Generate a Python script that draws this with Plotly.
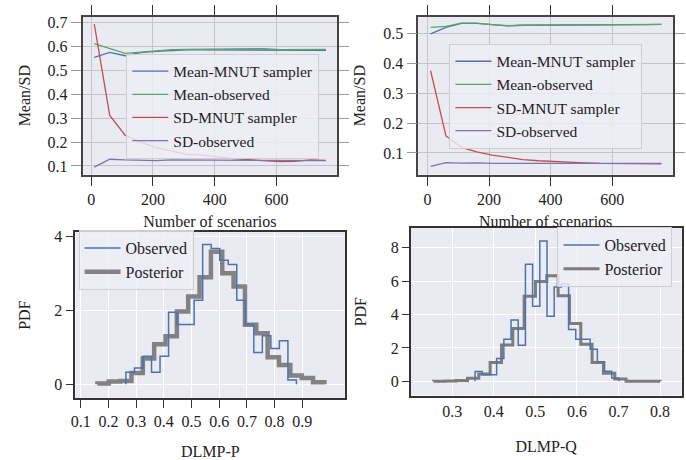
import numpy as np
import plotly.graph_objects as go

# ---- convergence of mean / SD versus number of scenarios ----
scenarios = [10, 60, 110, 160, 210, 260, 310, 360, 410, 460, 510, 560, 610, 660, 710, 760]

p_mean_mnut = [0.555, 0.576, 0.562, 0.575, 0.580, 0.585, 0.587, 0.587, 0.587, 0.587,
               0.587, 0.588, 0.586, 0.586, 0.585, 0.585]
p_mean_obs = [0.613, 0.593, 0.572, 0.577, 0.583, 0.588, 0.589, 0.589, 0.589, 0.590,
              0.590, 0.592, 0.588, 0.589, 0.589, 0.589]
p_sd_mnut = [0.695, 0.312, 0.229, 0.200, 0.177, 0.162, 0.148, 0.145, 0.137, 0.131,
             0.126, 0.121, 0.118, 0.119, 0.125, 0.123]
p_sd_obs = [0.095, 0.128, 0.125, 0.124, 0.122, 0.125, 0.125, 0.124, 0.124, 0.123,
            0.123, 0.123, 0.122, 0.122, 0.122, 0.122]

q_mean_mnut = [0.498, 0.520, 0.533, 0.533, 0.529, 0.525, 0.527, 0.527, 0.527, 0.528,
               0.528, 0.528, 0.529, 0.529, 0.529, 0.530]
q_mean_obs = [0.520, 0.523, 0.534, 0.534, 0.529, 0.526, 0.527, 0.528, 0.528, 0.528,
              0.528, 0.528, 0.529, 0.529, 0.529, 0.530]
q_sd_mnut = [0.375, 0.157, 0.119, 0.104, 0.093, 0.085, 0.078, 0.074, 0.071, 0.069,
             0.067, 0.065, 0.065, 0.064, 0.064, 0.064]
q_sd_obs = [0.055, 0.068, 0.066, 0.067, 0.065, 0.065, 0.065, 0.065, 0.065, 0.065,
            0.065, 0.065, 0.065, 0.065, 0.065, 0.065]

series_names = ["Mean-MNUT sampler", "Mean-observed", "SD-MNUT sampler", "SD-observed"]
series_colors = ["#4c72b0", "#55a868", "#c44e52", "#8172b2"]

# ---- histograms (density) of DLMP-P and DLMP-Q ----
p_obs_range = (0.263, 0.879)
p_obs_density = [0.33, 0.44, 0.76, 0.33, 0.76, 1.95, 1.62, 1.62, 2.27, 3.78,
                 3.67, 3.35, 3.24, 2.27, 1.62, 0.86, 1.31, 0.97, 1.18, 0.12]
p_post_range = (0.160, 0.980)
p_post_density = [0.02, 0.08, 0.09, 0.31, 0.70, 1.08, 1.30, 1.97, 2.37, 2.89,
                  3.58, 3.00, 2.64, 1.61, 1.38, 0.73, 0.52, 0.24, 0.17, 0.06]

q_obs_range = (0.355, 0.701)
q_obs_density = [0.59, 0.40, 0.40, 1.37, 2.52, 3.67, 2.16, 7.01, 4.50, 8.40,
                 3.90, 5.65, 5.83, 3.11, 2.52, 2.52, 1.92, 1.17, 0.60, 0.20]
q_post_range = (0.255, 0.800)
q_post_density = [0.01, 0.02, 0.05, 0.18, 0.44, 1.13, 2.18, 3.17, 5.09, 5.98,
                  6.32, 5.13, 3.47, 2.22, 1.13, 0.48, 0.14, 0.01, 0.01, 0.01]

FONT = "Liberation Serif, Times New Roman, serif"
BG = "#eaeaf2"


def step_outline(rng, density):
    """Outline of a step histogram: x/y vertices for a 'hv' line."""
    edges = np.linspace(rng[0], rng[1], len(density) + 1)
    xs = [edges[0]] + list(edges)
    ys = [0.0] + list(density) + [0.0]
    return xs, ys


fig = go.Figure()

# top panels
for xa, ya, leg, data in [
    ("x", "y", "legend", [p_mean_mnut, p_mean_obs, p_sd_mnut, p_sd_obs]),
    ("x2", "y2", "legend2", [q_mean_mnut, q_mean_obs, q_sd_mnut, q_sd_obs]),
]:
    for name, color, vals in zip(series_names, series_colors, data):
        fig.add_trace(go.Scatter(x=scenarios, y=vals, mode="lines", name=name,
                                 line=dict(color=color, width=1.3),
                                 xaxis=xa, yaxis=ya, legend=leg))

# bottom panels
for xa, ya, leg, obs_r, obs_d, post_r, post_d, pw, pc in [
    ("x3", "y3", "legend3", p_obs_range, p_obs_density, p_post_range, p_post_density,
     4.5, "rgba(112,112,112,0.85)"),
    ("x4", "y4", "legend4", q_obs_range, q_obs_density, q_post_range, q_post_density,
     3.0, "rgba(118,118,118,0.95)"),
]:
    px, py = step_outline(post_r, post_d)
    fig.add_trace(go.Scatter(x=px, y=py, mode="lines", name="Posterior",
                             line=dict(color=pc, width=pw, shape="hv"),
                             xaxis=xa, yaxis=ya, legend=leg, legendrank=2))
    ox, oy = step_outline(obs_r, obs_d)
    fig.add_trace(go.Scatter(x=ox, y=oy, mode="lines", name="Observed",
                             line=dict(color="#4c72b0", width=1.5, shape="hv"),
                             xaxis=xa, yaxis=ya, legend=leg, legendrank=1))

W, H = 686, 460


def dom_x(a, b):
    return [a / W, b / W]


def dom_y(top, bottom):
    return [1 - bottom / H, 1 - top / H]


tick_font = dict(family=FONT, size=16, color="#222")
title_font = dict(family=FONT, size=16, color="#222")

top_axis_common = dict(showline=True, linecolor="#444", linewidth=1.5, mirror="ticks",
                       ticks="outside", ticklen=10, tickwidth=1.2,
                       showgrid=True, gridcolor="#c4c4c4", gridwidth=1.3,
                       zeroline=False, tickfont=tick_font, title_font=title_font)
bot_axis_common = dict(showline=True, linecolor="#333", linewidth=1.5, mirror=True,
                       showgrid=True, gridcolor="#ffffff", gridwidth=1.2,
                       zeroline=False, tickfont=tick_font, title_font=title_font)

fig.update_layout(
    width=W, height=H, margin=dict(l=0, r=0, t=0, b=0),
    paper_bgcolor="white", plot_bgcolor=BG, font=dict(family=FONT, color="#222"),
    showlegend=True,
    xaxis=dict(domain=dom_x(79, 335), anchor="y", range=[-28, 796],
               tickvals=[0, 200, 400, 600], tickcolor="#333",
               title=dict(text="Number of scenarios", standoff=8), **top_axis_common),
    yaxis=dict(domain=dom_y(13, 172), anchor="x", range=[0.064, 0.725],
               tickvals=[0.1, 0.2, 0.3, 0.4, 0.5, 0.6, 0.7], tickcolor="#999",
               title=dict(text="Mean/SD", standoff=13), **top_axis_common),
    xaxis2=dict(domain=dom_x(416.7, 673), anchor="y2", range=[-30, 798],
                tickvals=[0, 200, 400, 600], tickcolor="#333",
                title=dict(text="Number of scenarios", standoff=8), **top_axis_common),
    yaxis2=dict(domain=dom_y(13, 172), anchor="x2", range=[0.028, 0.555],
                tickvals=[0.1, 0.2, 0.3, 0.4, 0.5], tickcolor="#999",
                title=dict(text="Mean/SD", standoff=14), **top_axis_common),
    xaxis3=dict(domain=dom_x(71.7, 343.3), anchor="y3", range=[0.08, 1.0555],
                tickvals=[0.1, 0.2, 0.3, 0.4, 0.5, 0.6, 0.7, 0.8, 0.9],
                ticktext=["0.1", "0.2", "0.3", "0.4", "0.5", "0.6", "0.7", "0.8", "0.9"],
                ticks="outside", ticklen=8, tickcolor="#333",
                title=dict(text="DLMP-P", standoff=18), **bot_axis_common),
    yaxis3=dict(domain=dom_y(230, 397.7), anchor="x3", range=[-0.375, 4.115],
                tickvals=[0, 2, 4], ticks="outside", ticklen=8, tickcolor="#333",
                title=dict(text="PDF", standoff=20), **bot_axis_common),
    xaxis4=dict(domain=dom_x(409, 681.7), anchor="y4", range=[0.2, 0.852],
                tickvals=[0.3, 0.4, 0.5, 0.6, 0.7, 0.8], ticks="",
                title=dict(text="DLMP-Q", standoff=22), **bot_axis_common),
    yaxis4=dict(domain=dom_y(225.7, 395), anchor="x4", range=[-0.85, 9.2],
                tickvals=[0, 2, 4, 6, 8], ticks="outside", ticklen=7, tickcolor="#333",
                title=dict(text="PDF", standoff=20), **bot_axis_common),
)

legend_common = dict(bgcolor="rgba(238,238,245,0.82)", bordercolor="#cfcfcf", borderwidth=1,
                     xanchor="left", yanchor="top", tracegroupgap=0, itemwidth=36)
fig.update_layout(
    legend=dict(x=123 / W, y=1 - 50 / H, font=dict(family=FONT, size=15.5, color="#222"),
                **legend_common),
    legend2=dict(x=448 / W, y=1 - 40 / H, font=dict(family=FONT, size=15.5, color="#222"),
                 **legend_common),
    legend3=dict(x=75 / W, y=1 - 228 / H, font=dict(family=FONT, size=16, color="#222"),
                 **legend_common),
    legend4=dict(x=556.7 / W, y=1 - 225 / H, font=dict(family=FONT, size=16, color="#222"),
                 **legend_common),
)

fig.write_html("out.html")
